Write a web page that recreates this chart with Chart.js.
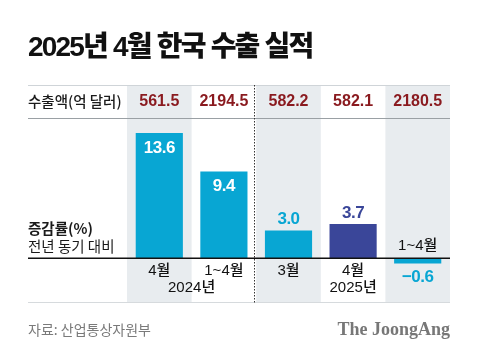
<!DOCTYPE html>
<html><head><meta charset="utf-8">
<script src="https://cdn.jsdelivr.net/npm/chart.js@4.4.1/dist/chart.umd.min.js"></script>
<style>html,body{margin:0;padding:0;background:#fff}#wrap{width:480px;height:356px;position:relative}</style>
</head><body><div id="wrap"><canvas id="c" width="480" height="356"></canvas></div>
<script>
const title = '2025년 4월 한국 수출 실적';
const categories = ['4월', '1~4월', '3월', '4월', '1~4월'];
const growth = [13.6, 9.4, 3.0, 3.7, -0.6];
const amounts = ['561.5', '2194.5', '582.2', '582.1', '2180.5'];
const yearLabels = ['2024년', '2025년'];
const rowLabel1 = '수출액(억 달러)';
const rowLabel2a = '증감률(%)';
const rowLabel2b = '전년 동기 대비';
const source = '자료: 산업통상자원부';
const brand = 'The JoongAng';

const CYAN = '#08a6d3', NAVY = '#3a4699', RED = '#8a1a1f', SHADE = '#e8ecef';
const barColors = growth.map((v, i) => i === 3 ? NAVY : CYAN);
const KR = '"Noto Sans CJK KR", "Noto Sans", sans-serif';
const MIX = '"Liberation Sans", "Noto Sans CJK KR", sans-serif';

const deco = {
  id: 'deco',
  beforeDatasetsDraw(chart) {
    const {ctx, chartArea: a, scales: {x, y}} = chart;
    ctx.save();
    const half = (x.getPixelForValue(1) - x.getPixelForValue(0)) / 2;
    categories.forEach((c, i) => {
      if (i % 2 === 0) {
        const cx = x.getPixelForValue(i);
        ctx.fillStyle = SHADE;
        ctx.fillRect(cx - half, a.top, half * 2, a.bottom - a.top);
      }
    });
    ctx.fillStyle = '#cfd4d8';
    ctx.fillRect(28, a.top, a.right - 28, 1);
    ctx.fillStyle = '#9aa0a4';
    ctx.fillRect(28, 118, a.right - 28, 1);
    ctx.fillStyle = '#d6dadd';
    ctx.fillRect(28, a.bottom - 1, a.right - 28, 1);
    const dx = Math.round(x.getPixelForValue(2) - half) - 1.5;
    ctx.strokeStyle = '#333';
    ctx.lineWidth = 1;
    ctx.setLineDash([1.5, 1.5]);
    ctx.beginPath();
    ctx.moveTo(dx, a.top); ctx.lineTo(dx, a.bottom);
    ctx.stroke();
    ctx.restore();
  },
  afterDatasetsDraw(chart) {
    const {ctx, chartArea: a, scales: {x, y}} = chart;
    const meta = chart.getDatasetMeta(0);
    const half = (x.getPixelForValue(1) - x.getPixelForValue(0)) / 2;
    ctx.save();
    const y0 = y.getPixelForValue(0);
    ctx.fillStyle = '#111';
    ctx.fillRect(28, Math.round(y0) - 0.5, a.right - 28, 1.5);

    // title
    ctx.fillStyle = '#111';
    ctx.textBaseline = 'alphabetic';
    ctx.textAlign = 'left';
    ctx.font = `900 28px ${MIX}`;
    ctx.letterSpacing = '-1.8px';
    ctx.fillText(title, 28, 56);
    ctx.letterSpacing = '0px';

    // row labels
    ctx.textBaseline = 'middle';
    ctx.font = `500 14.5px ${KR}`;
    ctx.fillStyle = '#1a1a1a';
    ctx.fillText(rowLabel1, 28, 101);
    ctx.font = `bold 14.5px ${KR}`;
    ctx.fillText(rowLabel2a, 28, 228);
    ctx.font = `14.5px ${KR}`;
    ctx.fillText(rowLabel2b, 28, 246);

    // amounts
    ctx.textAlign = 'center';
    ctx.font = `bold 16px ${MIX}`;
    ctx.fillStyle = RED;
    amounts.forEach((t, i) => ctx.fillText(t, x.getPixelForValue(i), 102));

    // value labels
    ctx.font = `bold 17px ${MIX}`;
    ctx.letterSpacing = '-0.5px';
    meta.data.forEach((bar, i) => {
      const v = growth[i];
      const cx = bar.x;
      if (v >= 8) {
        ctx.fillStyle = '#fff';
        ctx.fillText(v.toFixed(1), cx, bar.y + 15);
      } else if (v >= 0) {
        ctx.fillStyle = barColors[i];
        ctx.fillText(v.toFixed(1), cx, bar.y - 11);
      } else {
        ctx.fillStyle = CYAN;
        ctx.fillText('\u2212' + Math.abs(v).toFixed(1), cx, bar.y + 14);
      }
    });
    ctx.letterSpacing = '0px';

    // category labels
    ctx.font = `500 15px ${MIX}`;
    ctx.fillStyle = '#111';
    categories.forEach((c, i) => {
      const cx = x.getPixelForValue(i);
      if (growth[i] < 0) ctx.fillText(c, cx, y0 - 12);
      else ctx.fillText(c, cx, y0 + 13);
    });
    ctx.fillText(yearLabels[0], x.getPixelForValue(0) + half, y0 + 30);
    ctx.fillText(yearLabels[1], x.getPixelForValue(3), y0 + 30);

    // footer
    ctx.textAlign = 'left';
    ctx.font = `14px ${KR}`;
    ctx.fillStyle = '#7a7a7a';
    ctx.fillText(source, 28, 330);
    ctx.textAlign = 'right';
    ctx.font = `bold 18px "Liberation Serif", "DejaVu Serif", serif`;
    ctx.fillStyle = '#777';
    ctx.fillText(brand, a.right, 330);
    ctx.restore();
  }
};

new Chart(document.getElementById('c'), {
  type: 'bar',
  data: {
    labels: categories,
    datasets: [{data: growth, backgroundColor: barColors, barPercentage: 0.73, categoryPercentage: 1}]
  },
  options: {
    responsive: false,
    animation: false,
    devicePixelRatio: 1,
    layout: {padding: {left: 127, right: 30, top: 85, bottom: 53}},
    plugins: {legend: {display: false}, tooltip: {enabled: false}, title: {display: false}},
    scales: {
      x: {display: false},
      y: {display: false, min: -4.9, max: 18.82}
    }
  },
  plugins: [deco]
});
</script>
</body></html>
